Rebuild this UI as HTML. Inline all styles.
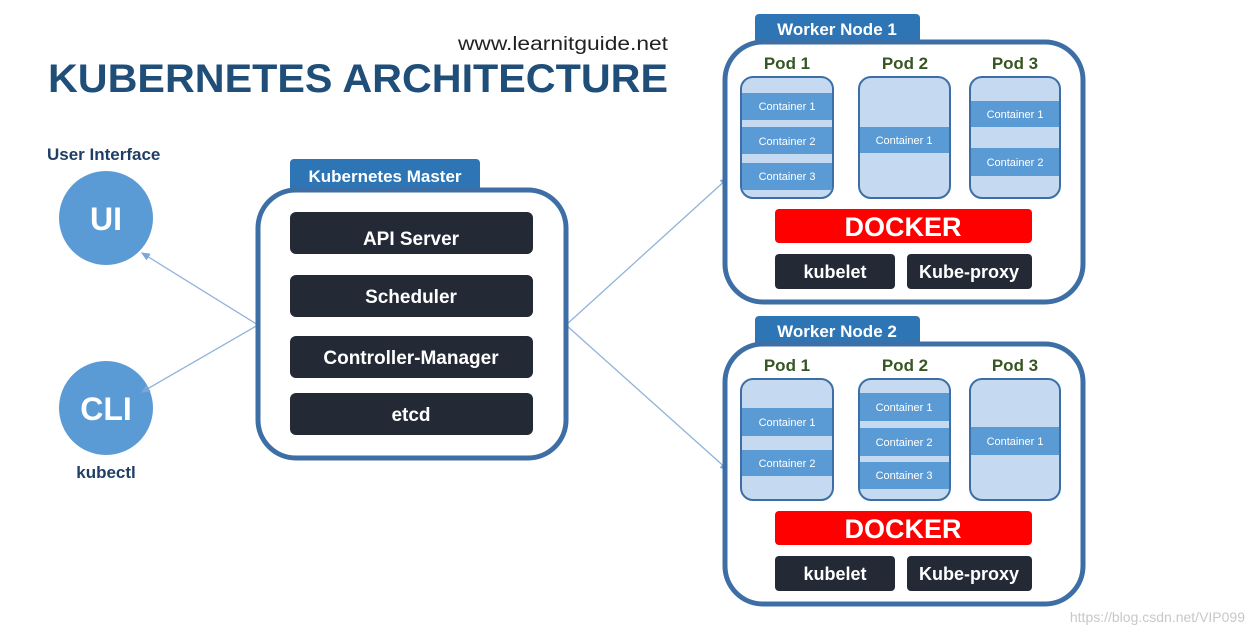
<!DOCTYPE html>
<html><head><meta charset="utf-8"><style>
html,body{margin:0;padding:0;background:#fff;}
svg{display:block;font-family:"Liberation Sans",sans-serif;}
.b{font-weight:bold;}
</style></head><body>
<svg width="1254" height="635" viewBox="0 0 1254 635" xmlns="http://www.w3.org/2000/svg">
<defs>
<marker id="ar" markerWidth="8" markerHeight="8" refX="6" refY="4" orient="auto"><path d="M0,1 L7,4 L0,7 z" fill="#7aa6d8"/></marker>
</defs>
<rect width="1254" height="635" fill="#fff"/>
<!-- title -->
<text x="458" y="50" font-size="19" fill="#222" textLength="210" lengthAdjust="spacingAndGlyphs">www.learnitguide.net</text>
<text x="48" y="92" font-size="40" class="b" fill="#1f4e79" textLength="620" lengthAdjust="spacingAndGlyphs">KUBERNETES ARCHITECTURE</text>
<!-- UI / CLI -->
<text x="47" y="160" font-size="17" class="b" fill="#1f3f66">User Interface</text>
<circle cx="106" cy="218" r="47" fill="#5b9bd5"/>
<text x="106" y="230" font-size="32" class="b" fill="#fff" text-anchor="middle">UI</text>
<circle cx="106" cy="408" r="47" fill="#5b9bd5"/>
<text x="106" y="420" font-size="32" class="b" fill="#fff" text-anchor="middle">CLI</text>
<text x="106" y="478" font-size="17" class="b" fill="#1f3f66" text-anchor="middle">kubectl</text>
<!-- connectors -->
<g stroke="#8fb3dc" stroke-width="1.3" fill="none">
<line x1="258" y1="325" x2="142" y2="253" marker-end="url(#ar)"/>
<line x1="258" y1="325" x2="142" y2="392" marker-end="url(#ar)"/>
<line x1="566" y1="325" x2="728" y2="178" marker-end="url(#ar)"/>
<line x1="566" y1="325" x2="728" y2="470" marker-end="url(#ar)"/>
</g>
<!-- master -->
<path d="M290,190 V163 a4,4 0 0 1 4,-4 H476 a4,4 0 0 1 4,4 V190 z" fill="#2e75b6"/>
<text x="385" y="182" font-size="17" class="b" fill="#fff" text-anchor="middle">Kubernetes Master</text>
<rect x="258" y="190" width="308" height="268" rx="38" fill="#fff" stroke="#3d6fa6" stroke-width="5"/>
<g fill="#232a36">
<rect x="290" y="212" width="243" height="42" rx="6"/>
<rect x="290" y="275" width="243" height="42" rx="6"/>
<rect x="290" y="336" width="243" height="42" rx="6"/>
<rect x="290" y="393" width="243" height="42" rx="6"/>
</g>
<g font-size="19" class="b" fill="#fff" text-anchor="middle">
<text x="411" y="245">API  Server</text>
<text x="411" y="303">Scheduler</text>
<text x="411" y="364">Controller-Manager</text>
<text x="411" y="421">etcd</text>
</g>

<!-- worker template function manually -->
<g id="w1">
<path d="M755,42 V18 a4,4 0 0 1 4,-4 H916 a4,4 0 0 1 4,4 V42 z" fill="#2e75b6"/>
<text x="837" y="35" font-size="17" class="b" fill="#fff" text-anchor="middle">Worker Node 1</text>
<rect x="725" y="42" width="358" height="260" rx="38" fill="#fff" stroke="#3d6fa6" stroke-width="5"/>
<g font-size="17" class="b" fill="#375623" text-anchor="middle">
<text x="787" y="69">Pod 1</text><text x="905" y="69">Pod 2</text><text x="1015" y="69">Pod 3</text>
</g>
<g fill="#c5d9f1" stroke="#3d6fa6" stroke-width="2">
<rect x="741" y="77" width="92" height="121" rx="12"/>
<rect x="859" y="77" width="91" height="121" rx="12"/>
<rect x="970" y="77" width="90" height="121" rx="12"/>
</g>
<g fill="#5b9bd5">
<rect x="742" y="93" width="90" height="27"/><rect x="742" y="127" width="90" height="27"/><rect x="742" y="163" width="90" height="27"/>
<rect x="860" y="127" width="89" height="26"/>
<rect x="971" y="101" width="88" height="26"/><rect x="971" y="148" width="88" height="28"/>
</g>
<g font-size="11" fill="#fff" text-anchor="middle">
<text x="787" y="110">Container 1</text><text x="787" y="145">Container 2</text><text x="787" y="180">Container 3</text>
<text x="904" y="144">Container 1</text>
<text x="1015" y="118">Container 1</text><text x="1015" y="166">Container 2</text>
</g>
<rect x="775" y="209" width="257" height="34" rx="4" fill="#ff0000"/>
<text x="903" y="236" font-size="27" class="b" fill="#fff" text-anchor="middle">DOCKER</text>
<rect x="775" y="254" width="120" height="35" rx="4" fill="#232a36"/>
<rect x="907" y="254" width="125" height="35" rx="4" fill="#232a36"/>
<text x="835" y="278" font-size="18" class="b" fill="#fff" text-anchor="middle">kubelet</text>
<text x="969" y="278" font-size="18" class="b" fill="#fff" text-anchor="middle">Kube-proxy</text>
</g>

<g id="w2">
<path d="M755,344 V320 a4,4 0 0 1 4,-4 H916 a4,4 0 0 1 4,4 V344 z" fill="#2e75b6"/>
<text x="837" y="337" font-size="17" class="b" fill="#fff" text-anchor="middle">Worker Node 2</text>
<rect x="725" y="344" width="358" height="260" rx="38" fill="#fff" stroke="#3d6fa6" stroke-width="5"/>
<g font-size="17" class="b" fill="#375623" text-anchor="middle">
<text x="787" y="371">Pod 1</text><text x="905" y="371">Pod 2</text><text x="1015" y="371">Pod 3</text>
</g>
<g fill="#c5d9f1" stroke="#3d6fa6" stroke-width="2">
<rect x="741" y="379" width="92" height="121" rx="12"/>
<rect x="859" y="379" width="91" height="121" rx="12"/>
<rect x="970" y="379" width="90" height="121" rx="12"/>
</g>
<g fill="#5b9bd5">
<rect x="742" y="408" width="90" height="28"/><rect x="742" y="450" width="90" height="26"/>
<rect x="860" y="393" width="89" height="28"/><rect x="860" y="428" width="89" height="28"/><rect x="860" y="462" width="89" height="27"/>
<rect x="971" y="427" width="88" height="28"/>
</g>
<g font-size="11" fill="#fff" text-anchor="middle">
<text x="787" y="426">Container 1</text><text x="787" y="467">Container 2</text>
<text x="904" y="411">Container 1</text><text x="904" y="446">Container 2</text><text x="904" y="479">Container 3</text>
<text x="1015" y="445">Container 1</text>
</g>
<rect x="775" y="511" width="257" height="34" rx="4" fill="#ff0000"/>
<text x="903" y="538" font-size="27" class="b" fill="#fff" text-anchor="middle">DOCKER</text>
<rect x="775" y="556" width="120" height="35" rx="4" fill="#232a36"/>
<rect x="907" y="556" width="125" height="35" rx="4" fill="#232a36"/>
<text x="835" y="580" font-size="18" class="b" fill="#fff" text-anchor="middle">kubelet</text>
<text x="969" y="580" font-size="18" class="b" fill="#fff" text-anchor="middle">Kube-proxy</text>
</g>
<text x="1245" y="622" font-size="14" fill="#c8c8c8" text-anchor="end">https://blog.csdn.net/VIP099</text>
</svg>
</body></html>
